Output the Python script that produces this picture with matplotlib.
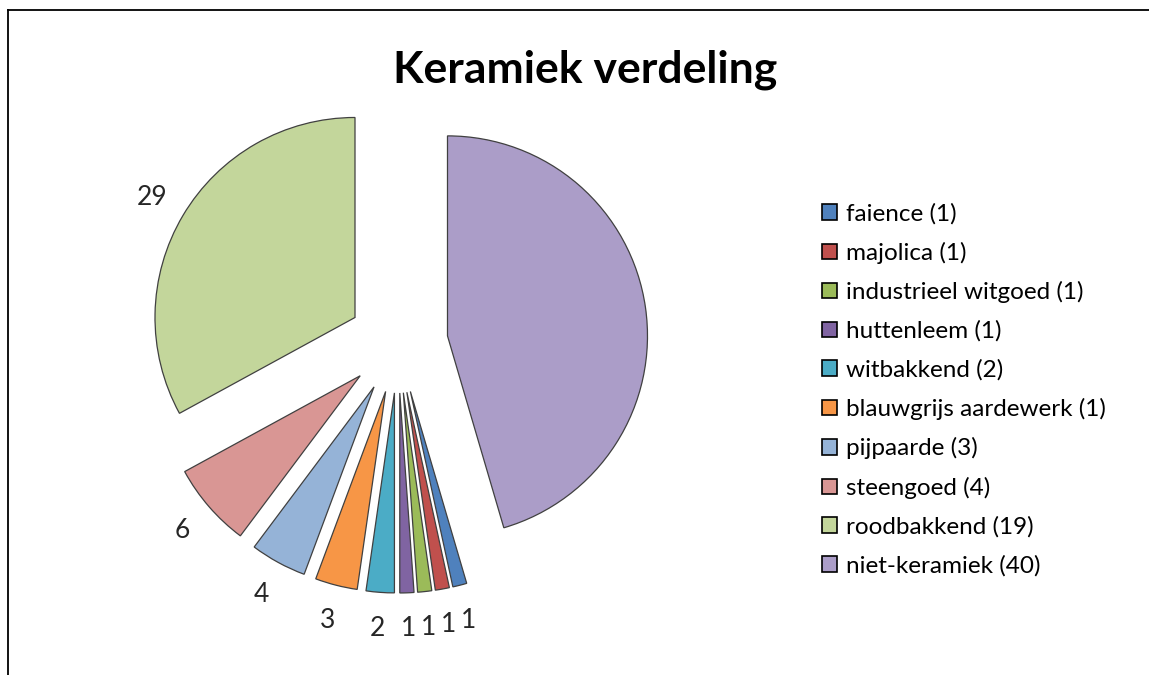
import matplotlib
matplotlib.use("Agg")
import matplotlib.pyplot as plt
from matplotlib.patches import Patch
from matplotlib.lines import Line2D

# data, in legend order
categories = ["faience", "majolica", "industrieel witgoed", "huttenleem",
              "witbakkend", "blauwgrijs aardewerk", "pijpaarde", "steengoed",
              "roodbakkend", "niet-keramiek"]
values = [1, 1, 1, 1, 2, 3, 4, 6, 29, 40]
legend_counts = [1, 1, 1, 1, 2, 1, 3, 4, 19, 40]
slice_labels = ["1", "1", "1", "1", "2", "3", "4", "6", "29", ""]

colors = ["#4F81BD", "#C0504D", "#9BBB59", "#8064A2", "#4BACC6",
          "#F79646", "#95B3D7", "#D99694", "#C3D69B", "#AB9DC8"]

FONT = ["Lato", "DejaVu Sans"]
plt.rcParams['font.family'] = FONT

W, H = 1149, 675
fig = plt.figure(figsize=(W / 100, H / 100), dpi=100)

# pie axes: center at (398, 343) px, radius 200 px
cx, cy, r = 398, 343, 200
half = 300
ax = fig.add_axes([(cx - half) / W, (H - cy - half) / H, 2 * half / W, 2 * half / H])

total = sum(values)
start = 90 - 360.0 * values[-1] / total

wedges, texts = ax.pie(values, labels=slice_labels, colors=colors,
                       explode=[0.25] * len(values), startangle=start,
                       counterclock=False, labeldistance=1.18, radius=1,
                       wedgeprops=dict(edgecolor="#404040", linewidth=0.9),
                       textprops=dict(fontsize=19, color="#262626"))
for t in texts:
    t.set_horizontalalignment("center")
ax.set_xlim(-half / r, half / r)
ax.set_ylim(-half / r, half / r)
ax.axis("off")

fig.text(585 / W, 1 - 70 / H, "Keramiek verdeling", ha="center", va="center",
         fontsize=32, fontweight="bold")

handles = [Patch(facecolor=c, edgecolor="black", linewidth=1.2) for c in colors]
labels = ["%s (%d)" % (n, c) for n, c in zip(categories, legend_counts)]
fig.legend(handles, labels, loc="upper left",
           bbox_to_anchor=(822 / W, 1 - 203 / H), frameon=False,
           fontsize=17.5, handlelength=0.6, handleheight=0.6,
           handletextpad=0.4, labelspacing=0.71, borderpad=0, borderaxespad=0)

# frame: top and left edges only
fig.add_artist(Line2D([7.5 / W, 1], [1 - 10 / H, 1 - 10 / H],
                      transform=fig.transFigure, color="black", linewidth=1.3))
fig.add_artist(Line2D([7.5 / W, 7.5 / W], [0, 1 - 10 / H],
                      transform=fig.transFigure, color="black", linewidth=1.3))

fig.savefig("out.png", dpi=100)
